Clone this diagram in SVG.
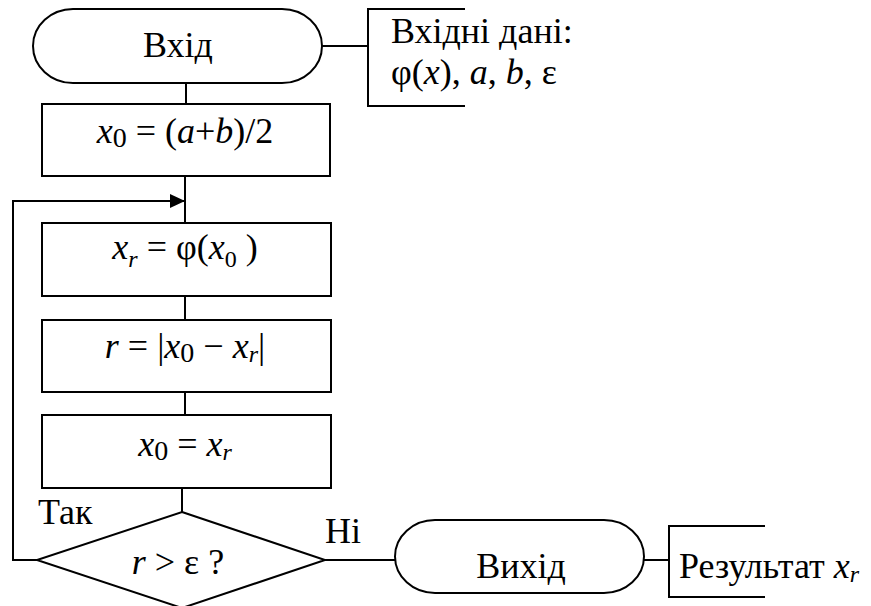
<svg xmlns="http://www.w3.org/2000/svg" width="871" height="606" viewBox="0 0 871 606">
<style>
.s{fill:none;stroke:#000;stroke-width:2}
.n{fill:#fff;stroke:#000;stroke-width:2}
text{font-family:'Liberation Serif','Times New Roman',serif;font-size:36px;fill:#000}
.i{font-style:italic}
.c{text-anchor:middle}
</style>
<defs>
<marker id="ah" markerUnits="userSpaceOnUse" markerWidth="16" markerHeight="14" refX="15" refY="7" orient="auto">
<path d="M0,0 L15,7 L0,14 z" fill="#000"/>
</marker>
</defs>
<rect width="871" height="606" fill="#fff"/>
<g id="connectors">
<line class="s" x1="186" y1="83" x2="186" y2="104"/>
<line class="s" x1="322" y1="46" x2="368" y2="46"/>
<line class="s" x1="185" y1="176" x2="185" y2="223"/>
<polyline class="s" points="37,560 13,560 13,201 185,201" marker-end="url(#ah)"/>
<line class="s" x1="185" y1="296" x2="185" y2="320"/>
<line class="s" x1="185" y1="392" x2="185" y2="415"/>
<line class="s" x1="182" y1="488" x2="182" y2="512"/>
<line class="s" x1="325" y1="560" x2="395" y2="560"/>
<line class="s" x1="644" y1="560" x2="669" y2="560"/>
</g>
<g id="start">
<rect class="n" x="33" y="9" width="289" height="74" rx="40" ry="37"/>
<text class="c" x="178" y="57">Вхід</text>
</g>
<g id="input">
<polyline class="s" points="465,9 368,9 368,106 465,106"/>
<text x="391" y="43">Вхідні дані:</text>
<text x="391" y="84">φ(<tspan class="i">x</tspan>), <tspan class="i">a</tspan>, <tspan class="i">b</tspan>, ε</text>
</g>
<g id="init">
<rect class="n" x="42" y="104" width="288" height="72"/>
<text class="c" x="185" y="143"><tspan class="i">x</tspan><tspan font-size="28" dy="4">0</tspan><tspan dy="-4"> = (</tspan><tspan class="i">a</tspan>+<tspan class="i">b</tspan>)/2</text>
</g>
<g id="iter">
<rect class="n" x="42" y="223" width="289" height="73"/>
<text class="c" x="185" y="259"><tspan class="i">x</tspan><tspan class="i" font-size="24" dy="8">r</tspan><tspan dy="-8"> = φ(</tspan><tspan class="i">x</tspan><tspan font-size="24" dy="8">0</tspan><tspan dy="-8"> )</tspan></text>
</g>
<g id="diff">
<rect class="n" x="42" y="320" width="289" height="72"/>
<text class="c" x="185" y="358"><tspan class="i">r</tspan> = |<tspan class="i">x</tspan><tspan font-size="28" dy="4">0</tspan><tspan dy="-4"> − </tspan><tspan class="i">x</tspan><tspan class="i" font-size="24" dy="4">r</tspan><tspan dy="-4">|</tspan></text>
</g>
<g id="assign">
<rect class="n" x="42" y="415" width="289" height="73"/>
<text class="c" x="185" y="456"><tspan class="i">x</tspan><tspan font-size="28" dy="4">0</tspan><tspan dy="-4"> = </tspan><tspan class="i">x</tspan><tspan class="i" font-size="24" dy="4">r</tspan></text>
</g>
<g id="cond">
<polygon class="n" points="182,512 325,560 182,608 37,560"/>
<text class="c" x="178" y="574"><tspan class="i">r</tspan> &gt; ε ?</text>
<text x="38" y="524">Так</text>
<text x="325" y="543">Ні</text>
</g>
<g id="end">
<rect class="n" x="395" y="520" width="249" height="73" rx="40" ry="36.5"/>
<text class="c" x="521" y="578">Вихід</text>
</g>
<g id="output">
<polyline class="s" points="765,526 669,526 669,597 765,597"/>
<text x="679" y="578">Результат <tspan class="i">x</tspan><tspan class="i" font-size="24" dy="4">r</tspan></text>
</g>
</svg>
